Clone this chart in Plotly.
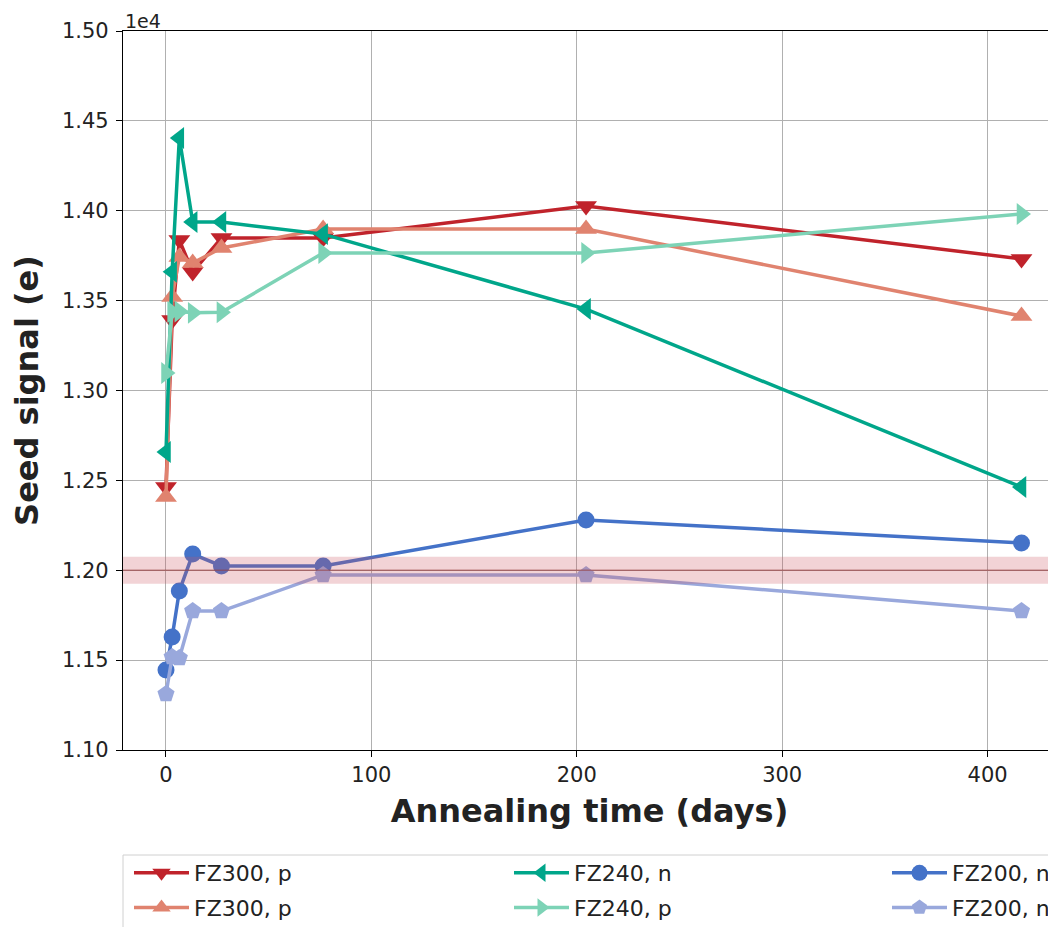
import plotly.graph_objects as go

# Annealing times (days)
days = [0, 3, 6.5, 13, 27, 76.5, 204.5, 416.5]

# Seed signal (e)
fz300_p_dark = [12463, 13392, 13837, 13659, 13848, 13848, 14026, 13732]
fz300_p_light = [12408, 13520, 13743, 13709, 13793, 13898, 13898, 13414]
fz240_n = [12658, 13660, 14405, 13937, 13937, 13870, 13453, 12463]
fz240_p = [13097, 13437, 13440, 13432, 13435, 13765, 13765, 13982]
fz200_n_dark = [11445, 11629, 11885, 12090, 12024, 12024, 12280, 12152]
fz200_n_light = [11312, 11517, 11512, 11773, 11773, 11974, 11974, 11773]

series = [
    ("FZ300, p", fz300_p_dark, "#c0232b", "triangle-down", 19, "legend"),
    ("FZ300, p", fz300_p_light, "#e0836f", "triangle-up", 19, "legend"),
    ("FZ240, n", fz240_n, "#00a68a", "triangle-left", 19, "legend2"),
    ("FZ240, p", fz240_p, "#7dd3b6", "triangle-right", 19, "legend2"),
    ("FZ200, n", fz200_n_dark, "#4472c8", "circle", 17, "legend3"),
    ("FZ200, n", fz200_n_light, "#99a8dc", "pentagon", 18, "legend3"),
]

yticks = [11000, 11500, 12000, 12500, 13000, 13500, 14000, 14500, 15000]
yticktext = ["%.2f" % (v / 1e4) for v in yticks]
xticks = [0, 100, 200, 300, 400]

# page offset (body margin) compensation
W, H = 1048, 919
L, T, B = 115, 23, 177
plot_h = H - T - B
plot_w = W - L

fig = go.Figure()
for i, (name, vals, color, sym, size, leg) in enumerate(series):
    fig.add_trace(go.Scatter(
        x=days, y=vals, name=name, mode="lines+markers",
        line=dict(color=color, width=3.5),
        marker=dict(symbol=sym, size=size, color=color),
        legend=leg, legendgroup="g%d" % i,
    ))

# reference band around 1.2e4
fig.add_shape(type="rect", xref="paper", x0=0, x1=1, yref="y", y0=11925, y1=12075,
              fillcolor="rgba(205,80,90,0.25)", line_width=0, layer="above")
fig.add_shape(type="line", xref="paper", x0=0, x1=1, yref="y", y0=12000, y1=12000,
              line=dict(color="rgba(150,60,60,0.55)", width=1.5), layer="above")

# legend frame
def px2x(p):
    return (p - 8 - L) / plot_w

def py2y(p):
    return (H - B - (p - 8)) / plot_h

fig.add_shape(type="rect", xref="paper", yref="paper",
              x0=px2x(123), x1=px2x(1080), y0=py2y(855), y1=py2y(960),
              line=dict(color="#d0d0d0", width=1), fillcolor="rgba(255,255,255,0.8)",
              layer="below")

fig.add_annotation(text="1e4", xref="paper", yref="paper", x=0, y=1, xanchor="left",
                   yanchor="bottom", showarrow=False, yshift=-3,
                   font=dict(size=19, color="#222", family="DejaVu Sans"))

legcommon = dict(orientation="v", yanchor="top", xanchor="left",
                 bgcolor="rgba(0,0,0,0)", borderwidth=0, itemwidth=55,
                 traceorder="grouped", tracegroupgap=3,
                 font=dict(size=22, family="DejaVu Sans", color="#222"))
ly = py2y(852)
fig.update_layout(
    width=W, height=H,
    margin=dict(l=L, r=0, t=T, b=B, autoexpand=False),
    plot_bgcolor="white", paper_bgcolor="white",
    font=dict(family="DejaVu Sans", size=21, color="#222"),
    showlegend=True,
    legend=dict(x=px2x(129), y=ly, **legcommon),
    legend2=dict(x=px2x(509), y=ly, **legcommon),
    legend3=dict(x=px2x(887), y=ly, **legcommon),
)
fig.update_xaxes(
    range=[-20.93, 433.3], tickvals=xticks, showgrid=True, gridcolor="#b0b0b0", gridwidth=1,
    showline=True, linecolor="black", linewidth=1.3, mirror=True,
    ticks="outside", ticklen=6, tickcolor="black", zeroline=False,
    title=dict(text="<b>Annealing time (days)</b>", font=dict(size=32), standoff=13),
)
fig.update_yaxes(
    range=[11000, 15000], tickvals=yticks, ticktext=yticktext, showgrid=True,
    gridcolor="#b0b0b0", gridwidth=1,
    showline=True, linecolor="black", linewidth=1.3, mirror=False,
    ticks="outside", ticklen=6, tickcolor="black", zeroline=False, ticklabelstandoff=3,
    title=dict(text="<b>Seed signal (e)</b>", font=dict(size=32), standoff=16),
)

fig.write_html("out.html")
